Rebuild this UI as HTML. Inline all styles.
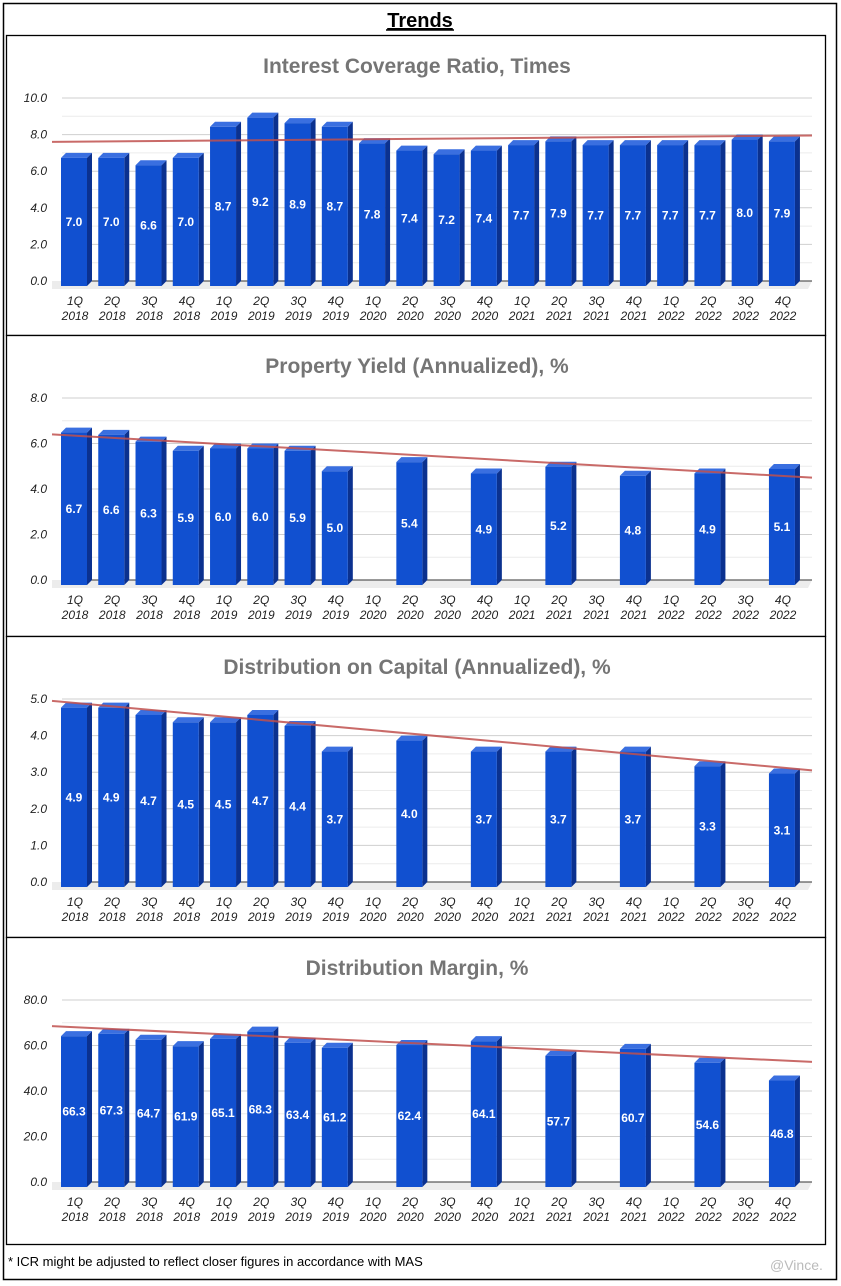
<!DOCTYPE html>
<html><head><meta charset="utf-8"><style>
html,body{margin:0;padding:0;background:#fff;}
svg{display:block;font-family:"Liberation Sans",Arial,sans-serif;}
</style></head><body>
<svg id="page" width="841" height="1286" viewBox="0 0 841 1286">
<rect x="3.5" y="3.5" width="833" height="1276" fill="none" stroke="#000" stroke-width="1.5"/>
<text x="420" y="27" text-anchor="middle" font-size="20" font-weight="bold" text-decoration="underline" fill="#000">Trends</text>
<line x1="386" y1="30" x2="454" y2="30" stroke="#000" stroke-width="1.5"/>
<text x="8" y="1266" font-size="13" fill="#000">* ICR might be adjusted to reflect closer figures in accordance with MAS</text>
<text x="770" y="1270" font-size="14" fill="#bbb">@Vince.</text>
<text x="738" y="1242" font-size="11" fill="#ccc">Tiger Community</text>
<g id="charts"></g>
</svg>
<script>
const quarters = ["1Q","2Q","3Q","4Q","1Q","2Q","3Q","4Q","1Q","2Q","3Q","4Q","1Q","2Q","3Q","4Q","1Q","2Q","3Q","4Q"];
const years = ["2018","2018","2018","2018","2019","2019","2019","2019","2020","2020","2020","2020","2021","2021","2021","2021","2022","2022","2022","2022"];
const icrValues = [7.0,7.0,6.6,7.0,8.7,9.2,8.9,8.7,7.8,7.4,7.2,7.4,7.7,7.9,7.7,7.7,7.7,7.7,8.0,7.9];
const yieldValues = [6.7,6.6,6.3,5.9,6.0,6.0,5.9,5.0,null,5.4,null,4.9,null,5.2,null,4.8,null,4.9,null,5.1];
const docValues = [4.9,4.9,4.7,4.5,4.5,4.7,4.4,3.7,null,4.0,null,3.7,null,3.7,null,3.7,null,3.3,null,3.1];
const marginValues = [66.3,67.3,64.7,61.9,65.1,68.3,63.4,61.2,null,62.4,null,64.1,null,57.7,null,60.7,null,54.6,null,46.8];
const icrTicks = [0,2,4,6,8,10];
const yieldTicks = [0,2,4,6,8];
const docTicks = [0,1,2,3,4,5];
const marginTicks = [0,20,40,60,80];
const icrTrend = [7.6,7.95];
const yieldTrend = [6.4,4.5];
const docTrend = [4.95,3.05];
const marginTrend = [68.5,52.8];

const NS="http://www.w3.org/2000/svg";
const root=document.getElementById('charts');
function el(tag,attrs,parent,text){const e=document.createElementNS(NS,tag);for(const k in attrs)e.setAttribute(k,attrs[k]);if(text!==undefined)e.textContent=text;(parent||root).appendChild(e);return e;}

const charts=[
 {name:"interest-coverage-ratio",title:"Interest Coverage Ratio, Times",panelTop:35,panelBot:335,top:98,base:281,max:10,ticks:icrTicks,vals:icrValues,trend:icrTrend},
 {name:"property-yield",title:"Property Yield (Annualized), %",panelTop:335,panelBot:636,top:398,base:580,max:8,ticks:yieldTicks,vals:yieldValues,trend:yieldTrend},
 {name:"distribution-on-capital",title:"Distribution on Capital (Annualized), %",panelTop:636,panelBot:937,top:699,base:882,max:5,ticks:docTicks,vals:docValues,trend:docTrend},
 {name:"distribution-margin",title:"Distribution Margin, %",panelTop:937,panelBot:1244,top:1000,base:1182,max:80,ticks:marginTicks,vals:marginValues,trend:marginTrend}
];
const X0=75, STEP=37.26, L=52, R=812;
charts.forEach(c=>{
 const g=el('g',{});
 
 
 const panel=el('rect',{x:6.5,y:c.panelTop+0.5,width:819,height:c.panelBot-c.panelTop,fill:'#fff',stroke:'#000','stroke-width':1.3},g);
 
 
 const t=el('text',{x:417,y:c.panelTop+38,'text-anchor':'middle','font-size':21,'font-weight':'bold',fill:'#757575'},g,c.title);
 
 
 const y=v=>c.base-(v/c.max)*(c.base-c.top);
 const x=i=>X0+i*STEP;
 // floor
 const fl=el('polygon',{points:`${L},${c.base} ${R},${c.base} ${R-4},${c.base+8} ${L},${c.base+8}`,fill:'#ececec'},g);
 
 
 const ts=c.ticks[1]-c.ticks[0];
 for(let k=0;k<c.ticks.length*2-1;k++){
   const v=k*ts/2; const yy=y(v);
   if(k===0)continue;
   const gl=el('line',{x1:L+10,x2:R,y1:yy,y2:yy,stroke:k%2?'#ececec':'#cfcfcf','stroke-width':1},g);
   
   
 }
 c.ticks.forEach(v=>{
   const tl=el('text',{x:47,y:y(v)+4,'text-anchor':'end','font-size':12,'font-style':'italic',fill:'#222'},g,v.toFixed(1));
   
   
 });
 const bl=el('line',{x1:L+10,x2:R,y1:c.base,y2:c.base,stroke:'#333','stroke-width':1},g);
 
 
 c.vals.forEach((v,i)=>{
   const cx=x(i)-1;
   const xl=el('text',{x:x(i),y:c.base+24,'text-anchor':'middle','font-size':12,'font-style':'italic',fill:'#222'},g);
   
   
   el('tspan',{x:x(i),dy:0},xl,quarters[i]);
   el('tspan',{x:x(i),dy:15},xl,years[i]);
   if(v===null)return;
   const yt=y(v), x1=cx-13, x2=cx+13, d=5;
   const bar=el('g',{},g);
   
   
   el('polygon',{points:`${x2},${yt+d} ${x2+d},${yt} ${x2+d},${c.base} ${x2},${c.base+d}`,fill:'#0b318f'},bar);
   el('polygon',{points:`${x1},${yt+d} ${x1+d},${yt} ${x2+d},${yt} ${x2},${yt+d}`,fill:'#3a6fe0'},bar);
   el('rect',{x:x1,y:yt+d,width:x2-x1,height:c.base+d-yt-d,fill:'#1150d0'},bar);
   const vl=el('text',{x:cx,y:(yt+c.base)/2+d+4,'text-anchor':'middle','font-size':12,'font-weight':'bold',fill:'#fff'},bar,v.toFixed(1));
   
   
 });
 const tr=el('line',{x1:L,y1:y(c.trend[0]),x2:R,y2:y(c.trend[1]),stroke:'#c0504d','stroke-opacity':0.85,'stroke-width':2},g);
 
 
});
</script>
</body></html>
